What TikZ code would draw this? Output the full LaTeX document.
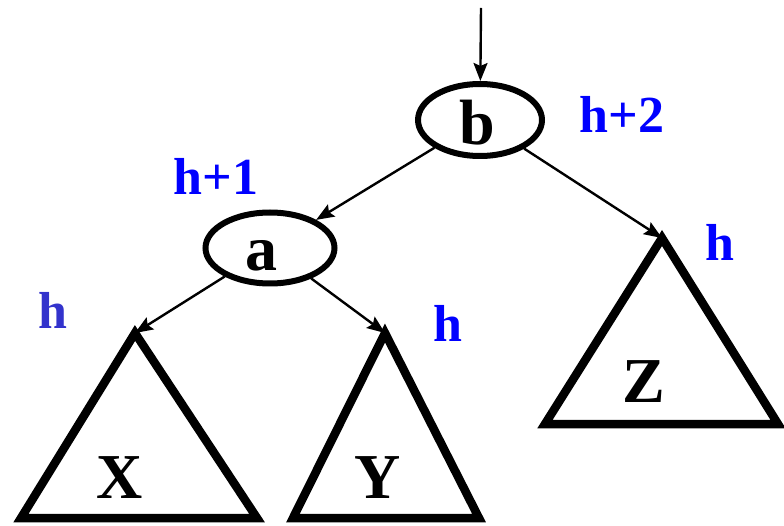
\documentclass[tikz,border=0pt]{standalone}
\usepackage{fontspec}
\setmainfont{Liberation Serif}
\usetikzlibrary{arrows.meta,shapes.geometric}
\definecolor{hblue}{RGB}{0,0,255}
\definecolor{hblueb}{RGB}{51,51,204}
\tikzset{
  treenode/.style={draw, ellipse, line width=6pt, inner sep=0pt},
  subtree/.style={draw, line width=8.5pt, line join=miter},
  subname/.style={font=\fontsize{64}{64}\selectfont\bfseries, inner sep=0pt},
  hlabel/.style={text=hblue, font=\fontsize{52}{52}\selectfont\bfseries, inner sep=0pt},
  link/.style={line width=2.4pt, -{Stealth[length=18pt,width=14pt,inset=3pt]}}
}
\begin{document}
\begin{tikzpicture}[x=1pt,y=-1pt]
\useasboundingbox (0,0) rectangle (784,526);
% nodes
\node[treenode, minimum width=124pt, minimum height=72pt] (b) at (480,120) {};
\node[subname] (bl) at (477,123) {b};
\node[treenode, minimum width=129pt, minimum height=71pt] (a) at (270,248) {};
\node[subname] (al) at (261,256) {a};
% subtrees
\coordinate (Xtop) at (135,333);
\coordinate (Ytop) at (385,333);
\coordinate (Ztop) at (662,238);
\coordinate (in) at (481,8);
\draw[subtree] (Xtop) -- (21,518) -- (257,518) -- cycle;
\draw[subtree] (Ytop) -- (293,518) -- (479,518) -- cycle;
\draw[subtree] (Ztop) -- (545,424) -- (778,424) -- cycle;
\node[subname] (X) at (120,478) {X};
\node[subname] (Y) at (378,478) {Y};
\node[subname] (Z) at (644,382) {Z};
% connectors
\draw[link] (in) -- (b);
\draw[link] (b) -- (a);
\draw[link] (b) -- (Ztop);
\draw[link] (a) -- (Xtop);
\draw[link] (a) -- (Ytop);
% labels
\node[hlabel] (l1) at (622,114) {h+2};
\node[hlabel] (l2) at (216,176) {h+1};
\node[hlabel, text=hblueb] (l3) at (53,310) {h};
\node[hlabel] (l4) at (448,323) {h};
\node[hlabel] (l5) at (720,242) {h};
\end{tikzpicture}
\end{document}
